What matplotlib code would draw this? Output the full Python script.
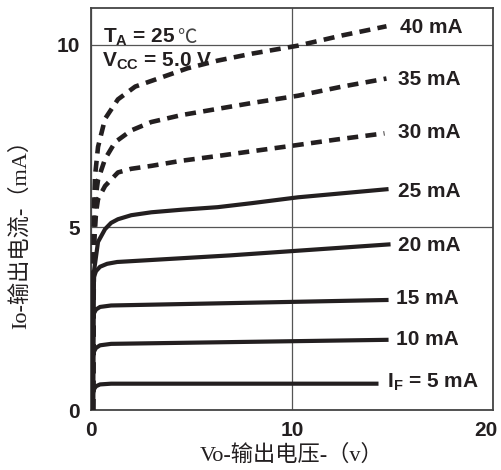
import matplotlib
matplotlib.use('Agg')
import matplotlib.pyplot as plt
from matplotlib.transforms import ScaledTranslation

# Io-Vo 输出特性曲线
curve_labels = ["40 mA", "35 mA", "30 mA", "25 mA", "20 mA", "15 mA", "10 mA",
                "I$_\\mathregular{F}$ = 5 mA"]

vo_40 = [0.1, 0.15, 0.2, 0.35, 0.7, 1.34, 2.2, 3.5, 4.8, 6.3, 8.0, 10.3, 12.5, 14.7]
io_40 = [0.0, 5.5, 6.4, 7.2, 7.97, 8.5, 8.85, 9.1, 9.35, 9.56, 9.75, 9.97, 10.25, 10.5]
vo_35 = [0.1, 0.15, 0.25, 0.35, 0.7, 1.2, 2.0, 3.0, 4.5, 6.3, 8.0, 10.3, 12.5, 14.7]
io_35 = [0.0, 5.0, 5.9, 6.3, 6.87, 7.33, 7.65, 7.88, 8.07, 8.24, 8.4, 8.6, 8.85, 9.07]
vo_30 = [0.1, 0.15, 0.25, 0.35, 0.7, 1.34, 2.0, 3.0, 4.5, 6.3, 8.0, 10.0, 12.2, 14.6]
io_30 = [0.0, 4.5, 5.4, 5.77, 6.13, 6.5, 6.6, 6.68, 6.82, 6.95, 7.08, 7.23, 7.4, 7.57]
vo_25 = [0.1, 0.15, 0.35, 0.7, 1.0, 1.34, 2.0, 3.0, 4.5, 6.3, 8.0, 10.3, 12.5, 14.7]
io_25 = [0.0, 3.8, 4.6, 4.95, 5.12, 5.22, 5.33, 5.41, 5.48, 5.55, 5.66, 5.82, 5.93, 6.04]
vo_20 = [0.1, 0.1, 0.15, 0.25, 0.45, 0.8, 1.3, 6.9, 14.8]
io_20 = [0.0, 3.45, 3.65, 3.8, 3.92, 4.0, 4.05, 4.23, 4.53]
vo_15 = [0.1, 0.1, 0.15, 0.25, 0.45, 1.0, 14.7]
io_15 = [0.0, 2.5, 2.65, 2.75, 2.82, 2.86, 3.01]
vo_10 = [0.1, 0.1, 0.15, 0.25, 0.45, 1.0, 14.7]
io_10 = [0.0, 1.45, 1.6, 1.7, 1.77, 1.81, 1.92]
vo_5 = [0.1, 0.1, 0.15, 0.25, 0.45, 1.0, 14.2]
io_5 = [0.0, 0.45, 0.57, 0.65, 0.7, 0.72, 0.72]

label_x = [15.37, 15.27, 15.27, 15.27, 15.27, 15.17, 15.17, 14.73]
label_y = [10.48, 9.03, 7.58, 5.99, 4.51, 3.06, 1.92, 0.77]

x_ticks = [0, 10, 20]
y_ticks = [0, 5, 10]

INK = "#231f20"
SERIF = ["Liberation Serif", "Noto Sans CJK SC"]

fig = plt.figure(figsize=(5.01, 4.70), dpi=100)
ax = fig.add_axes([91 / 501, 1 - 410 / 470, 402 / 501, 402 / 470])

curvas = [(vo_40, io_40, True), (vo_35, io_35, True), (vo_30, io_30, True),
          (vo_25, io_25, False), (vo_20, io_20, False), (vo_15, io_15, False),
          (vo_10, io_10, False), (vo_5, io_5, False)]
for (vo, io, tracejado), nome, lx, ly in zip(curvas, curve_labels, label_x, label_y):
    if tracejado:
        ax.plot(vo, io, color=INK, lw=3.3, linestyle=(0, (2.4, 1.6)),
                solid_capstyle="butt", zorder=3)
    else:
        ax.plot(vo, io, color=INK, lw=3.0, solid_joinstyle="round", zorder=3)
    ax.text(lx, ly, nome, fontsize=15, fontweight="bold", color=INK,
            family="Liberation Sans", ha="left", va="center", zorder=4)

ax.set_xlim(0, 20)
ax.set_ylim(0, 11)
ax.set_xticks(x_ticks)
ax.set_yticks(y_ticks)
ax.tick_params(length=0, pad=8, labelsize=15, labelcolor=INK)
for lab in ax.get_xticklabels() + ax.get_yticklabels():
    lab.set_fontweight("bold")
    lab.set_family("Liberation Sans")
# o "20" fica encostado na borda direita
ultimo = ax.get_xticklabels()[-1]
ultimo.set_transform(ultimo.get_transform() + ScaledTranslation(-7 / 100, 0, fig.dpi_scale_trans))
ax.grid(True, color="#555555", lw=0.9)
ax.set_axisbelow(True)
for sp in ax.spines.values():
    sp.set_color("#444444")
    sp.set_linewidth(1.3)

# condições de teste
t1 = ax.text(0.6, 10.06, "T$_\\mathregular{A}$ = 25", fontsize=15, fontweight="bold",
             color=INK, family="Liberation Sans", ha="left", va="baseline", zorder=2)
ax.annotate("℃", xy=(1.0, 0.0), xycoords=t1, xytext=(1, 0), textcoords="offset points",
            fontsize=14, color="#444444", family="Noto Sans CJK SC", va="bottom", zorder=2)
ax.text(0.55, 9.4, "V$_\\mathregular{CC}$ = 5.0 V", fontsize=15, fontweight="bold",
        color=INK, family="Liberation Sans", ha="left", va="baseline", zorder=2,
        bbox=dict(facecolor="white", edgecolor="none", pad=2.5))

fig.text(292 / 501, 1 - 455 / 470, "Vo-输出电压-（v）", fontsize=16, color=INK,
         family=SERIF, ha="center", va="center")
fig.text(20 / 501, 1 - 229 / 470, "Io-输出电流-（mA）", fontsize=16, color=INK,
         family=SERIF, ha="center", va="center", rotation=90)

fig.savefig("out.png", dpi=100)
